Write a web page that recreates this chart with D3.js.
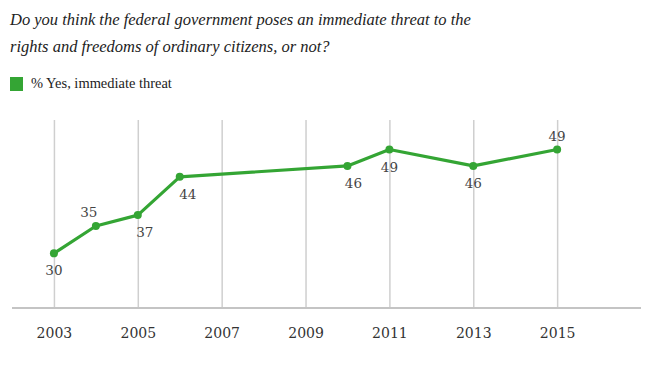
<!DOCTYPE html>
<html>
<head>
<meta charset="utf-8">
<script src="https://cdn.jsdelivr.net/npm/d3@7"></script>
<style>
  body { margin: 0; background: #fff; }
  svg { display: block; }
</style>
</head>
<body>
<script>
// chart data
var years = [2003, 2004, 2005, 2006, 2010, 2011, 2013, 2015];
var yesThreat = [30, 35, 37, 44, 46, 49, 46, 49];
var tickYears = [2003, 2005, 2007, 2009, 2011, 2013, 2015];
var titleLines = [
  "Do you think the federal government poses an immediate threat to the",
  "rights and freedoms of ordinary citizens, or not?"
];
var seriesName = "% Yes, immediate threat";

// where each value label sits relative to its point
var labelSide = ["below", "above", "below", "below", "below", "below", "below", "above"];
var labelShift = [0, -7, 7, 8, 6, 0, 0, 0];

var w = 650, h = 365;
var green = "#34a534";
var serif = "'DejaVu Serif', serif";

var svg = d3.select("body").append("svg")
  .attr("width", w)
  .attr("height", h);

var title = svg.selectAll("text.title")
  .data(titleLines)
  .enter()
  .append("text")
  .attr("class", "title")
  .attr("x", 10)
  .attr("y", function(d, i) { return 25 + i * 27; })
  .attr("font-family", "'Liberation Serif'")
  .attr("font-style", "italic")
  .attr("font-size", 18)
  .attr("fill", "#222")
  .text(function(d) { return d; });

// size the title so the first line spans like the original (~461px)
var tw = title.node().getComputedTextLength();
title.attr("font-size", 18 * 461 / tw);

svg.append("rect")
  .attr("x", 10).attr("y", 77)
  .attr("width", 13).attr("height", 14)
  .attr("fill", green);

var leg = svg.append("text")
  .attr("x", 31).attr("y", 88)
  .attr("font-family", "'Liberation Serif'")
  .attr("font-size", 15)
  .attr("fill", "#222")
  .text(seriesName);
var lw = leg.node().getComputedTextLength();
leg.attr("font-size", 15 * 141 / lw);

var xScale = d3.scaleLinear()
  .domain([2002, 2017])
  .range([12, 641]);

var yScale = d3.scaleLinear()
  .domain([20, 54.4])
  .range([308, 120]);

// vertical grid lines + year labels
var xAxis = d3.axisBottom(xScale)
  .tickValues(tickYears)
  .tickFormat(d3.format("d"))
  .tickSize(-(yScale(20) - yScale(54.4)))
  .tickPadding(20);

var gx = svg.append("g")
  .attr("transform", "translate(0," + yScale(20) + ")")
  .call(xAxis);

gx.select(".domain").remove();
gx.selectAll(".tick line")
  .attr("stroke", "#cfcfcf")
  .attr("stroke-width", 1.5);
gx.selectAll(".tick text")
  .attr("font-family", serif)
  .attr("font-size", 14)
  .attr("fill", "#333");

svg.append("line")
  .attr("x1", xScale(2002)).attr("x2", xScale(2017))
  .attr("y1", yScale(20)).attr("y2", yScale(20))
  .attr("stroke", "#c4c4c4")
  .attr("stroke-width", 2);

var pts = years.map(function(y, i) { return { year: y, value: yesThreat[i], i: i }; });

var line = d3.line()
  .x(function(d) { return xScale(d.year); })
  .y(function(d) { return yScale(d.value); });

svg.append("path")
  .datum(pts)
  .attr("d", line)
  .attr("fill", "none")
  .attr("stroke", green)
  .attr("stroke-width", 3.2)
  .attr("stroke-linejoin", "round");

svg.selectAll("circle.pt")
  .data(pts)
  .enter()
  .append("circle")
  .attr("class", "pt")
  .attr("cx", function(d) { return xScale(d.year); })
  .attr("cy", function(d) { return yScale(d.value); })
  .attr("r", 4)
  .attr("fill", green);

svg.selectAll("text.val")
  .data(pts)
  .enter()
  .append("text")
  .attr("class", "val")
  .attr("x", function(d) { return xScale(d.year) + labelShift[d.i]; })
  .attr("y", function(d) {
    return yScale(d.value) + (labelSide[d.i] == "above" ? -9 : 22);
  })
  .attr("text-anchor", "middle")
  .attr("font-family", serif)
  .attr("font-size", 13.5)
  .attr("fill", "#444")
  .text(function(d) { return d.value; });
</script>
</body>
</html>
